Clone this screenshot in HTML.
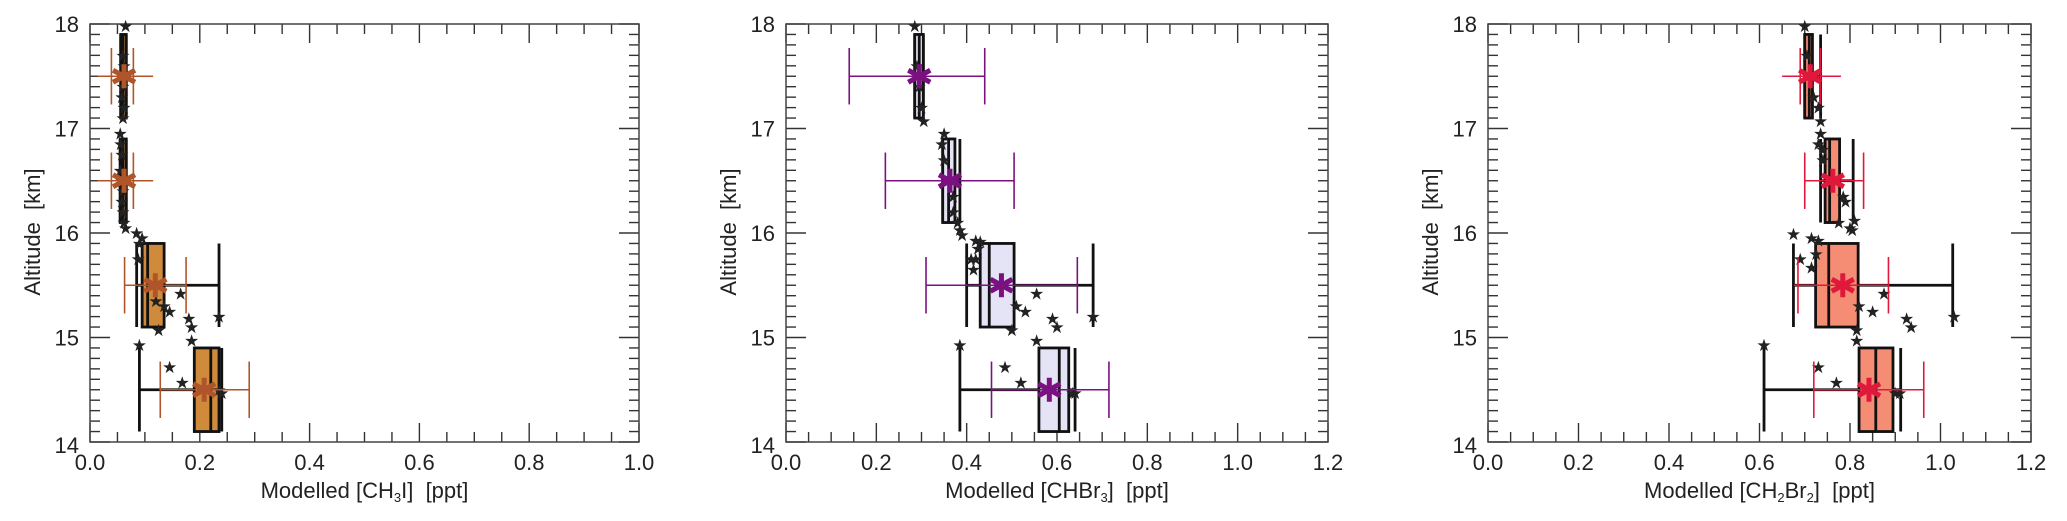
<!DOCTYPE html>
<html><head><meta charset="utf-8"><style>
html,body{margin:0;padding:0;background:#fff;}
svg{display:block;font-family:"Liberation Sans",sans-serif;}
</style></head><body>
<svg id="fig" width="2067" height="521" viewBox="0 0 2067 521" xmlns="http://www.w3.org/2000/svg"></svg>
<script>
// ---- data ----
const bins = [14.5, 15.5, 16.5, 17.5];
// CH3I
const ch3iBoxQ1 = [0.19, 0.095, 0.055, 0.056];
const ch3iBoxQ3 = [0.235, 0.135, 0.066, 0.066];
const ch3iMedian = [0.22, 0.105, 0.06, 0.06];
const ch3iWhiskLo = [0.09, 0.085, 0.055, 0.056];
const ch3iWhiskHi = [0.24, 0.235, 0.066, 0.066];
const ch3iMean = [0.208, 0.119, 0.062, 0.062];
const ch3iErrLo = [0.128, 0.063, 0.014, 0.014];
const ch3iErrHi = [0.29, 0.175, 0.115, 0.115];
const ch3iBarLo = [0.128, 0.063, 0.039, 0.039];
const ch3iBarHi = [0.29, 0.175, 0.079, 0.079];
const ch3iPtsX = [0.065,0.06,0.062,0.06,0.058,0.062,0.06,0.055,0.056,0.058,0.055,0.058,0.06,0.058,0.06,0.062,0.065,0.085,0.095,0.09,0.088,0.165,0.145,0.135,0.18,0.185,0.125,0.235,0.09,0.185,0.145,0.168,0.24,0.235,0.12];
const ch3iPtsY = [17.98,17.7,17.6,17.4,17.3,17.2,17.1,16.95,16.85,16.75,16.6,16.5,16.4,16.3,16.2,16.1,16.05,16.0,15.95,15.9,15.75,15.42,15.25,15.3,15.18,15.1,15.07,15.2,14.93,14.97,14.72,14.57,14.47,14.5,15.35];
// CHBr3
const chbr3BoxQ1 = [0.56, 0.43, 0.347, 0.285];
const chbr3BoxQ3 = [0.626, 0.505, 0.374, 0.304];
const chbr3Median = [0.605, 0.45, 0.36, 0.295];
const chbr3WhiskLo = [0.385, 0.40, 0.347, 0.285];
const chbr3WhiskHi = [0.64, 0.68, 0.385, 0.304];
const chbr3Mean = [0.583, 0.477, 0.363, 0.295];
const chbr3ErrLo = [0.455, 0.31, 0.22, 0.14];
const chbr3ErrHi = [0.715, 0.645, 0.505, 0.44];
const chbr3PtsX = [0.285,0.29,0.295,0.3,0.305,0.35,0.345,0.35,0.37,0.37,0.38,0.385,0.39,0.42,0.43,0.425,0.42,0.41,0.415,0.555,0.51,0.53,0.59,0.6,0.5,0.68,0.385,0.555,0.485,0.52,0.635,0.64];
const chbr3PtsY = [17.98,17.6,17.4,17.2,17.07,16.95,16.85,16.7,16.35,16.2,16.1,16.03,15.98,15.93,15.92,15.85,15.75,15.75,15.65,15.42,15.3,15.25,15.18,15.1,15.07,15.2,14.93,14.97,14.72,14.57,14.47,14.47];
// CH2Br2
const ch2br2BoxQ1 = [0.82, 0.724, 0.745, 0.70];
const ch2br2BoxQ3 = [0.895, 0.818, 0.777, 0.717];
const ch2br2Median = [0.857, 0.753, 0.755, 0.71];
const ch2br2WhiskLo = [0.61, 0.675, 0.735, 0.70];
const ch2br2WhiskHi = [0.912, 1.027, 0.807, 0.735];
const ch2br2Mean = [0.842, 0.784, 0.762, 0.712];
const ch2br2ErrLo = [0.72, 0.676, 0.70, 0.65];
const ch2br2ErrHi = [0.963, 0.885, 0.83, 0.78];
const ch2br2BarLo = [0.72, 0.685, 0.70, 0.69];
const ch2br2BarHi = [0.963, 0.885, 0.83, 0.735];
const ch2br2PtsX = [0.70,0.705,0.72,0.73,0.735,0.735,0.73,0.74,0.74,0.785,0.79,0.81,0.80,0.805,0.775,0.675,0.715,0.73,0.725,0.69,0.715,0.875,0.82,0.85,0.925,0.935,0.815,1.03,0.61,0.815,0.73,0.77,0.91,0.9];
const ch2br2PtsY = [17.98,17.7,17.3,17.2,17.07,16.95,16.85,16.8,16.7,16.35,16.3,16.12,16.05,16.03,16.1,15.99,15.95,15.93,15.8,15.75,15.67,15.42,15.3,15.25,15.18,15.1,15.07,15.2,14.93,14.97,14.72,14.57,14.47,14.47];
const yTicks = [14, 15, 16, 17, 18];

const NS = "http://www.w3.org/2000/svg";
const svg = document.getElementById('fig');
function el(tag, attrs, parent, text) {
  const e = document.createElementNS(NS, tag);
  for (const k in attrs) e.setAttribute(k, attrs[k]);
  if (text !== undefined) e.textContent = text;
  (parent || svg).appendChild(e);
  return e;
}

function panel(cfg) {
  const g = el('g', {});
  
  
  const L = cfg.left, R = cfg.right, T = 24, B = 442;
  const xs = v => L + (v - 0) / cfg.xmax * (R - L);
  const ys = v => B - (v - 14) / 4 * (B - T);

  const tk = el('g', {stroke: '#333', 'stroke-width': 1.4}, g);
  
  
  for (let i = 0; i <= Math.round(cfg.xmax / 0.05); i++) {
    const v = i * 0.05, x = xs(v), major = (i % 4 === 0);
    const len = major ? 19 : 10;
    el('line', {x1: x, y1: B, x2: x, y2: B - len}, tk);
    el('line', {x1: x, y1: T, x2: x, y2: T + len}, tk);
  }
  for (let i = 0; i <= 40; i++) {
    const v = 14 + i * 0.1, y = ys(v), major = (i % 10 === 0);
    const len = major ? 20 : 10;
    el('line', {x1: L, y1: y, x2: L + len, y2: y}, tk);
    el('line', {x1: R, y1: y, x2: R - len, y2: y}, tk);
  }
  const fr = el('rect', {x: L, y: T, width: R - L, height: B - T, fill: 'none', stroke: '#444', 'stroke-width': 1.5}, g);
  
  

  for (let i = 0; i <= Math.round(cfg.xmax / 0.2); i++) {
    const v = i * 0.2;
    const t = el('text', {x: xs(v), y: 470, 'font-size': 22, 'text-anchor': 'middle', fill: '#222'}, g, v.toFixed(1));
    
    
  }
  yTicks.forEach(v => {
    const t = el('text', {x: L - 11, y: ys(v) + (v === 14 ? 11 : 8), 'font-size': 22, 'text-anchor': 'end', fill: '#222'}, g, String(v));
    
    
  });
  const yt = el('text', {x: 0, y: 0, 'font-size': 22, 'text-anchor': 'middle', fill: '#222', transform: `translate(${L - 50},232) rotate(-90)`}, g, 'Altitude\u00a0\u00a0[km]');
  
  
  const xt = el('text', {x: (L + R) / 2, y: 498, 'font-size': 22, 'text-anchor': 'middle', fill: '#222'}, g);
  
  
  xt.innerHTML = cfg.xtitle;

  bins.forEach((b, i) => {
    const bg = el('g', {stroke: '#111', 'stroke-width': 2.8, fill: 'none'}, g);
    
    
    const yt = ys(b + 0.4), yb = ys(b - 0.4), yc = ys(b);
    el('line', {x1: xs(cfg.wlo[i]), y1: yc, x2: xs(cfg.whi[i]), y2: yc}, bg);
    el('line', {x1: xs(cfg.wlo[i]), y1: yt, x2: xs(cfg.wlo[i]), y2: yb}, bg);
    el('line', {x1: xs(cfg.whi[i]), y1: yt, x2: xs(cfg.whi[i]), y2: yb}, bg);
    el('rect', {x: xs(cfg.q1[i]), y: yt, width: Math.max(2, xs(cfg.q3[i]) - xs(cfg.q1[i])), height: yb - yt, fill: cfg.fill}, bg);
    el('line', {x1: xs(cfg.med[i]), y1: yt, x2: xs(cfg.med[i]), y2: yb}, bg);
  });

  cfg.px.forEach((v, i) => {
    const p = el('text', {x: xs(v), y: ys(cfg.py[i]) + 6, 'font-size': 17, 'text-anchor': 'middle', fill: '#222'}, g, '★');
    
    
  });

  bins.forEach((b, i) => {
    const mg = el('g', {stroke: cfg.color}, g);
    
    
    const yc = ys(b);
    el('line', {x1: xs(cfg.elo[i]), y1: yc, x2: xs(cfg.ehi[i]), y2: yc, 'stroke-width': 1.6}, mg);
    [cfg.blo[i], cfg.bhi[i]].forEach(v => el('line', {x1: xs(v), y1: ys(b + 0.27), x2: xs(v), y2: ys(b - 0.27), 'stroke-width': 1.6}, mg));
    const cx = xs(cfg.mean[i]);
    [[0, -12, 0, 12], [-11, -6, 11, 6], [-11, 6, 11, -6]].forEach(d =>
      el('line', {x1: cx + d[0], y1: yc + d[1], x2: cx + d[2], y2: yc + d[3], 'stroke-width': 5}, mg));
  });
}

panel({name: 'panel-ch3i', left: 90, right: 639, xmax: 1.0, xtitle: 'Modelled [CH<tspan font-size="13" dy="4">3</tspan><tspan dy="-4">I]&#160;&#160;[ppt]</tspan>',
  q1: ch3iBoxQ1, q3: ch3iBoxQ3, med: ch3iMedian, wlo: ch3iWhiskLo, whi: ch3iWhiskHi, fill: '#d08a3c',
  mean: ch3iMean, elo: ch3iErrLo, ehi: ch3iErrHi, blo: ch3iBarLo, bhi: ch3iBarHi, color: '#b0552a', px: ch3iPtsX, py: ch3iPtsY});
panel({name: 'panel-chbr3', left: 786, right: 1328, xmax: 1.2, xtitle: 'Modelled [CHBr<tspan font-size="13" dy="4">3</tspan><tspan dy="-4">]&#160;&#160;[ppt]</tspan>',
  q1: chbr3BoxQ1, q3: chbr3BoxQ3, med: chbr3Median, wlo: chbr3WhiskLo, whi: chbr3WhiskHi, fill: '#e4e4f6',
  mean: chbr3Mean, elo: chbr3ErrLo, ehi: chbr3ErrHi, blo: chbr3ErrLo, bhi: chbr3ErrHi, color: '#7b1180', px: chbr3PtsX, py: chbr3PtsY});
panel({name: 'panel-ch2br2', left: 1488, right: 2031, xmax: 1.2, xtitle: 'Modelled [CH<tspan font-size="13" dy="4">2</tspan><tspan dy="-4">Br</tspan><tspan font-size="13" dy="4">2</tspan><tspan dy="-4">]&#160;&#160;[ppt]</tspan>',
  q1: ch2br2BoxQ1, q3: ch2br2BoxQ3, med: ch2br2Median, wlo: ch2br2WhiskLo, whi: ch2br2WhiskHi, fill: '#f58c74',
  mean: ch2br2Mean, elo: ch2br2ErrLo, ehi: ch2br2ErrHi, blo: ch2br2BarLo, bhi: ch2br2BarHi, color: '#e0193c', px: ch2br2PtsX, py: ch2br2PtsY});
</script>
</body></html>
